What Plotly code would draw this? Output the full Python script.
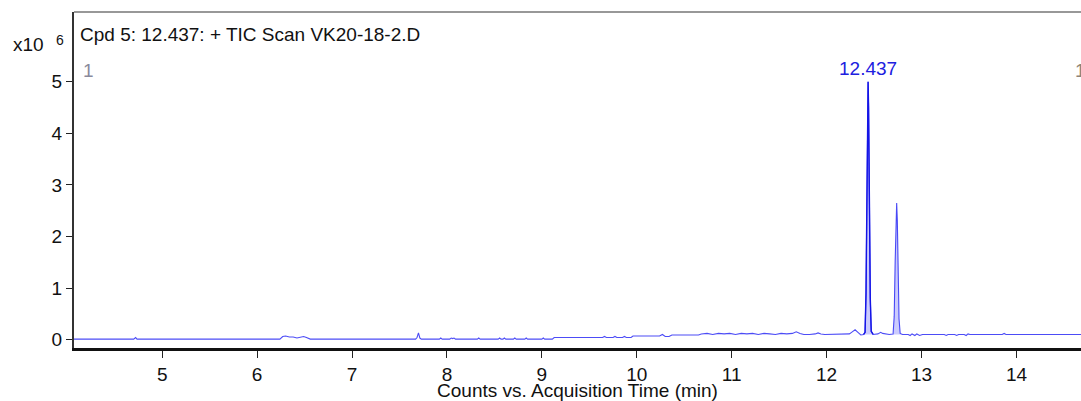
import numpy as np
import plotly.graph_objects as go

# Total ion chromatogram, retention time (min) vs counts (x10^6)
rt_min = [
    4.07, 4.70, 4.72, 4.735, 4.75,
    6.24, 6.27, 6.30, 6.34, 6.38, 6.42, 6.46, 6.49, 6.52, 6.56,
    7.67, 7.685, 7.70, 7.715, 7.73,
    7.92, 7.935, 7.95, 8.03, 8.045, 8.06, 8.075, 8.09,
    8.32, 8.335, 8.35, 8.54, 8.555, 8.57, 8.59, 8.605, 8.62,
    8.70, 8.715, 8.73, 8.82, 8.835, 8.85, 9.00, 9.015, 9.03,
    9.11, 9.13,
    9.64, 9.66, 9.68, 9.75, 9.77, 9.79, 9.85, 9.87, 9.89, 9.94, 9.96,
    10.24, 10.27, 10.30, 10.34, 10.37, 10.40,
    10.65, 10.68, 10.74, 10.80, 10.86, 10.92, 10.98, 11.04, 11.10,
    11.16, 11.22, 11.28, 11.34, 11.40, 11.46, 11.52, 11.58, 11.64,
    11.68, 11.72, 11.76, 11.82, 11.88, 11.91, 11.94, 11.98,
    12.05, 12.15, 12.24, 12.27, 12.30, 12.33, 12.36, 12.39,
    12.405, 12.415, 12.425, 12.432, 12.437, 12.442, 12.45, 12.46, 12.47, 12.49,
    12.54, 12.57, 12.59, 12.62, 12.66, 12.70,
    12.712, 12.722, 12.731, 12.738, 12.745, 12.753, 12.763, 12.775, 12.80,
    12.86, 12.88, 12.90, 12.93, 12.95, 12.98, 13.01, 13.05,
    13.24, 13.26, 13.28, 13.35, 13.37, 13.39, 13.45, 13.47, 13.49, 13.51,
    13.85, 13.87, 13.89, 14.68,
]
counts_e6 = [
    0.01, 0.01, 0.04, 0.01, 0.01,
    0.01, 0.06, 0.07, 0.05, 0.05, 0.03, 0.05, 0.06, 0.04, 0.01,
    0.01, 0.04, 0.13, 0.03, 0.01,
    0.01, 0.03, 0.01, 0.01, 0.03, 0.02, 0.03, 0.01,
    0.01, 0.03, 0.01, 0.01, 0.03, 0.01, 0.01, 0.03, 0.01,
    0.01, 0.03, 0.01, 0.01, 0.03, 0.01, 0.01, 0.03, 0.01,
    0.01, 0.04,
    0.04, 0.06, 0.04, 0.04, 0.06, 0.04, 0.04, 0.06, 0.04, 0.04, 0.07,
    0.07, 0.10, 0.06, 0.06, 0.09, 0.09,
    0.09, 0.11, 0.12, 0.10, 0.12, 0.11, 0.12, 0.10, 0.12,
    0.11, 0.12, 0.10, 0.12, 0.11, 0.10, 0.12, 0.11, 0.12,
    0.15, 0.12, 0.10, 0.10, 0.11, 0.13, 0.11, 0.10,
    0.10, 0.10, 0.11, 0.15, 0.19, 0.14, 0.09, 0.10,
    0.14, 0.90, 3.20, 4.60, 5.00, 4.50, 2.40, 0.80, 0.16, 0.10,
    0.11, 0.14, 0.12, 0.11, 0.10, 0.11,
    0.45, 1.50, 2.35, 2.65, 2.30, 1.30, 0.40, 0.12, 0.10,
    0.10, 0.08, 0.11, 0.08, 0.11, 0.08, 0.10, 0.10,
    0.10, 0.08, 0.10, 0.10, 0.08, 0.10, 0.10, 0.08, 0.11, 0.10,
    0.10, 0.12, 0.10, 0.10,
]

peak_rt = 12.437
peak_label = "12.437"
title_text = "Cpd 5: 12.437: + TIC Scan VK20-18-2.D"
x_title = "Counts vs. Acquisition Time (min)"
x_ticks = [5, 6, 7, 8, 9, 10, 11, 12, 13, 14]
y_ticks = [0, 1, 2, 3, 4, 5]

rt = np.array(rt_min)
ct = np.array(counts_e6)

# Figure geometry (pixels)
W, H = 1081, 401
L, R, T, B = 74, 0, 12, 53
PW, PH = W - L - R, H - T - B


def px(xp):
    return (xp - L) / PW


def py(yp):
    return (H - B - yp) / PH


FONT = "Liberation Sans, Arial, sans-serif"
fig = go.Figure()

# integration shading under the two peaks
for lo, hi in [(12.39, 12.49), (12.70, 12.80)]:
    m = (rt >= lo) & (rt <= hi)
    xs = rt[m]
    ys = ct[m]
    base = float(min(ys[0], ys[-1]))
    fig.add_trace(go.Scatter(
        x=np.concatenate([xs, [xs[-1], xs[0]]]),
        y=np.concatenate([ys, [base, base]]),
        fill="toself", fillcolor="rgba(140,140,250,0.45)",
        line=dict(width=0), mode="lines", hoverinfo="skip", showlegend=False,
    ))

fig.add_trace(go.Scatter(
    x=rt, y=ct, mode="lines",
    line=dict(color="rgba(45,45,245,0.85)", width=1.1),
    showlegend=False,
))

# selected compound peak drawn stronger
m = (rt >= 12.39) & (rt <= 12.49)
fig.add_trace(go.Scatter(
    x=rt[m], y=ct[m], mode="lines",
    line=dict(color="rgb(20,20,230)", width=1.4), showlegend=False,
))

fig.update_layout(
    width=W, height=H,
    margin=dict(l=L, r=R, t=T, b=B, pad=0),
    paper_bgcolor="white", plot_bgcolor="white",
    font=dict(family=FONT, size=19, color="#111"),
    xaxis=dict(
        range=[4.071, 14.68], tickvals=x_ticks, ticks="outside", ticklen=7,
        tickwidth=1.2, tickcolor="#222", showline=True, linecolor="#111",
        linewidth=2.5, showgrid=False, zeroline=False,
        tickfont=dict(size=19, color="#111"),
        title=dict(text=x_title, font=dict(size=19, color="#111"), standoff=4),
    ),
    yaxis=dict(
        range=[-0.163, 6.353], tickvals=y_ticks, ticks="outside", ticklen=6,
        tickwidth=1.2, tickcolor="#222", showline=True, linecolor="#333",
        linewidth=2, showgrid=False, zeroline=False,
        tickfont=dict(size=19, color="#111"),
    ),
    shapes=[dict(type="line", xref="paper", yref="paper", x0=0, x1=1,
                 y0=1, y1=1, line=dict(color="#333", width=1.2))],
)

ann = [
    dict(text="x10", x=px(11), y=py(44), xanchor="left", yanchor="middle"),
    dict(text="6", x=px(54), y=py(40), xanchor="left", yanchor="middle",
         font=dict(size=14, color="#111", family=FONT)),
    dict(text=title_text, x=px(78), y=py(34), xanchor="left", yanchor="middle"),
    dict(text="1", x=px(81), y=py(70), xanchor="left", yanchor="middle",
         font=dict(size=19, color="#8a8a9c", family=FONT)),
    dict(text="1", x=px(1073), y=py(70), xanchor="left", yanchor="middle",
         font=dict(size=19, color="#8f8478", family=FONT)),
]
for a in ann:
    a.setdefault("font", dict(size=19, color="#111", family=FONT))
    fig.add_annotation(xref="paper", yref="paper", showarrow=False, **a)

# retention-time label above the selected peak
fig.add_annotation(
    x=peak_rt, y=ct[np.argmin(np.abs(rt - peak_rt))], xref="x", yref="y",
    text=peak_label, showarrow=False, yanchor="bottom", yshift=1,
    font=dict(size=19, color="#2020e0", family=FONT),
)

fig.write_html("out.html")
